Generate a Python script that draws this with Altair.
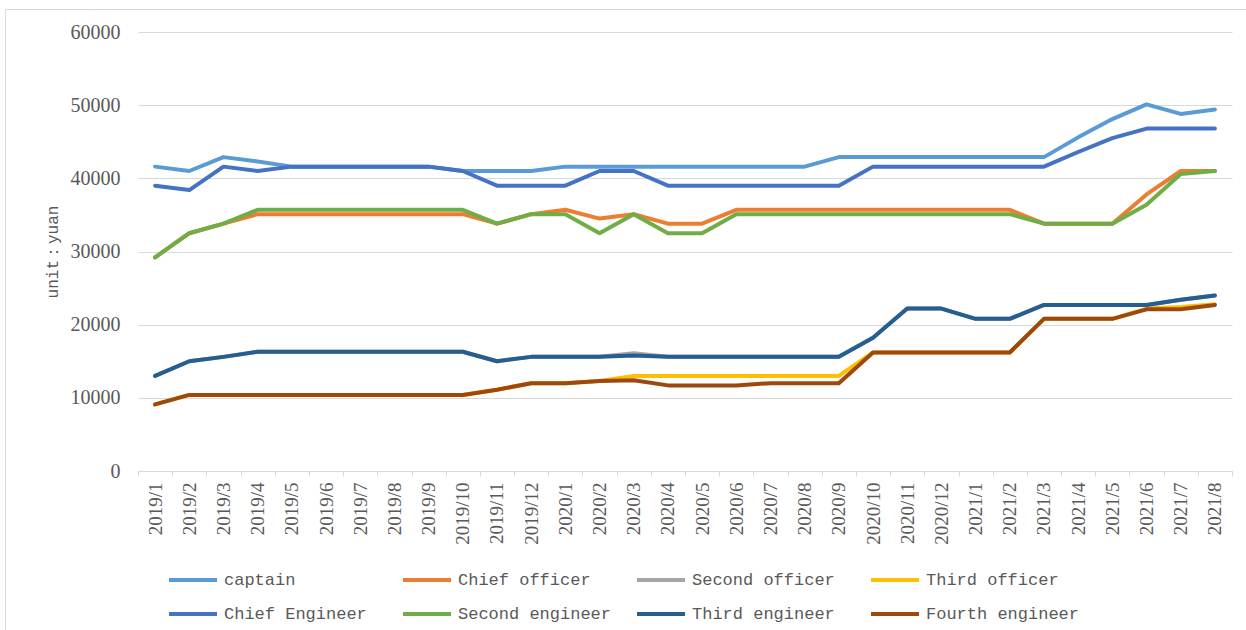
import altair as alt
import pandas as pd

# Monthly crew wages by rank, Jan 2019 - Aug 2021 (yuan)
months = [
    "2019/1", "2019/2", "2019/3", "2019/4", "2019/5", "2019/6", "2019/7", "2019/8",
    "2019/9", "2019/10", "2019/11", "2019/12", "2020/1", "2020/2", "2020/3", "2020/4",
    "2020/5", "2020/6", "2020/7", "2020/8", "2020/9", "2020/10", "2020/11", "2020/12",
    "2021/1", "2021/2", "2021/3", "2021/4", "2021/5", "2021/6", "2021/7", "2021/8",
]

captain = [41600, 41000, 42900, 42300, 41600, 41600, 41600, 41600, 41600, 41000, 41000, 41000,
           41600, 41600, 41600, 41600, 41600, 41600, 41600, 41600, 42900, 42900, 42900, 42900,
           42900, 42900, 42900, 45600, 48100, 50100, 48800, 49400]
chief_officer = [29200, 32500, 33800, 35100, 35100, 35100, 35100, 35100, 35100, 35100, 33800, 35100,
                 35700, 34500, 35100, 33800, 33800, 35700, 35700, 35700, 35700, 35700, 35700, 35700,
                 35700, 35700, 33800, 33800, 33800, 37800, 41000, 41000]
second_officer = [13000, 15000, 15600, 16300, 16300, 16300, 16300, 16300, 16300, 16300, 15000, 15600,
                  15600, 15600, 16100, 15600, 15600, 15600, 15600, 15600, 15600, 18200, 22200, 22200,
                  20800, 20800, 22700, 22700, 22700, 22700, 23400, 24000]
third_officer = [9100, 10400, 10400, 10400, 10400, 10400, 10400, 10400, 10400, 10400, 11100, 12000,
                 12000, 12300, 13000, 13000, 13000, 13000, 13000, 13000, 13000, 16200, 16200, 16200,
                 16200, 16200, 20800, 20800, 20800, 22200, 22400, 22800]
chief_engineer = [39000, 38400, 41600, 41000, 41600, 41600, 41600, 41600, 41600, 41000, 39000, 39000,
                  39000, 41000, 41000, 39000, 39000, 39000, 39000, 39000, 39000, 41600, 41600, 41600,
                  41600, 41600, 41600, 43600, 45500, 46800, 46800, 46800]
second_engineer = [29200, 32500, 33800, 35700, 35700, 35700, 35700, 35700, 35700, 35700, 33800, 35100,
                   35100, 32500, 35100, 32500, 32500, 35100, 35100, 35100, 35100, 35100, 35100, 35100,
                   35100, 35100, 33800, 33800, 33800, 36400, 40600, 41000]
third_engineer = [13000, 15000, 15600, 16300, 16300, 16300, 16300, 16300, 16300, 16300, 15000, 15600,
                  15600, 15600, 15800, 15600, 15600, 15600, 15600, 15600, 15600, 18200, 22200, 22200,
                  20800, 20800, 22700, 22700, 22700, 22700, 23400, 24000]
fourth_engineer = [9100, 10400, 10400, 10400, 10400, 10400, 10400, 10400, 10400, 10400, 11100, 12000,
                   12000, 12300, 12400, 11700, 11700, 11700, 12000, 12000, 12000, 16200, 16200, 16200,
                   16200, 16200, 20800, 20800, 20800, 22100, 22100, 22700]

series_names = ["captain", "Chief officer", "Second officer", "Third officer",
                "Chief Engineer", "Second engineer", "Third engineer", "Fourth engineer"]
series_values = [captain, chief_officer, second_officer, third_officer,
                 chief_engineer, second_engineer, third_engineer, fourth_engineer]
series_colors = ["#5B9BD5", "#ED7D31", "#A5A5A5", "#FFC000",
                 "#4472C4", "#70AD47", "#255E91", "#9E480E"]

rows = []
for name, vals in zip(series_names, series_values):
    for m, v in zip(months, vals):
        rows.append({"month": m, "series": name, "wage": v})
df = pd.DataFrame(rows)

TEXT = "#595959"
GRID = "#d9d9d9"

x_enc = alt.X(
    "month:N",
    sort=months,
    bandPosition=0.5,
    scale=alt.Scale(type="band", paddingInner=0, paddingOuter=0),
    axis=alt.Axis(
        title=None, labelAngle=270, labelAlign="right", labelBaseline="middle",
        labelFont="Liberation Serif", labelFontSize=19, labelColor=TEXT,
        labelPadding=6, labelOverlap=False,
        domainColor=GRID, domainWidth=1, tickColor=GRID, tickWidth=1, tickSize=5,
        tickBand="extent", grid=False,
    ),
)
y_enc = alt.Y(
    "wage:Q",
    scale=alt.Scale(domain=[0, 60000], nice=False),
    axis=alt.Axis(
        values=[0, 10000, 20000, 30000, 40000, 50000, 60000], format="d",
        grid=True, gridColor=GRID, gridWidth=1, domain=False, ticks=False, tickSize=0,
        labelPadding=18, labelFont="Liberation Serif", labelFontSize=20, labelColor=TEXT,
        title="unit：yuan", titleFont="Liberation Mono", titleFontSize=16,
        titleFontWeight="normal", titleColor=TEXT, titleAngle=270,
        titleX=-86, titleY=219.5, titleAlign="center", titleBaseline="middle",
    ),
)
color_enc = alt.Color(
    "series:N",
    scale=alt.Scale(domain=series_names, range=series_colors),
    legend=alt.Legend(
        title=None, orient="none", legendX=29, legendY=522, direction="horizontal",
        columns=4, gridAlign="all", columnPadding=17, rowPadding=0, padding=0,
        symbolType="stroke", symbolSize=2304, symbolStrokeWidth=4,
        labelFont="Liberation Mono", labelFontSize=17, labelColor=TEXT,
        labelOffset=5, labelLimit=400,
        labelExpr="datum.label == 'Fourth engineer' ? '\u00a0\u00a0Fourth engineer' : datum.label",
    ),
)

# one layer per rank so later ranks are painted over earlier ones
layers = []
for name in series_names:
    layers.append(
        alt.Chart(df[df["series"] == name])
        .mark_line(strokeWidth=4, strokeCap="round", strokeJoin="round")
        .encode(x=x_enc, y=y_enc, color=color_enc)
    )

# thin frame around the whole figure
frame = alt.Chart(alt.Data(values=[{"f": 1}])).mark_rect(
    fillOpacity=0, stroke=GRID, strokeWidth=1
).encode(
    x=alt.value(-132.5), x2=alt.value(1120), y=alt.value(-22.5), y2=alt.value(620)
)

chart = alt.layer(frame, *layers).properties(
    width=1094, height=439,
    autosize=alt.AutoSizeParams(type="none"),
    padding={"left": 138, "top": 32, "right": 14, "bottom": 159},
    background="white",
).configure_view(stroke=None)

chart.save("out.html", embed_options={"renderer": "svg", "actions": False})
